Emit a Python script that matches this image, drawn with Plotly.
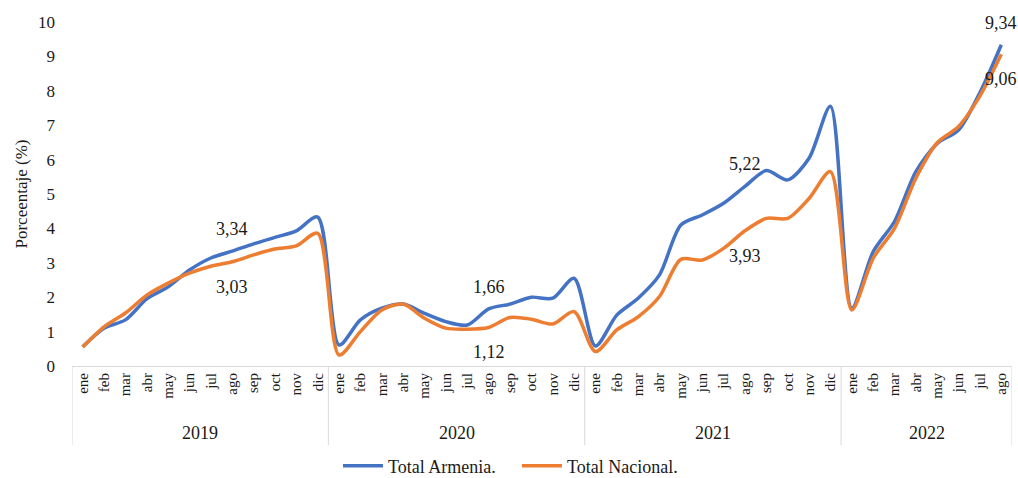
import plotly.graph_objects as go

years = ["2019", "2020", "2021", "2022"]
months_per_year = [12, 12, 12, 8]
month_names = ["ene", "feb", "mar", "abr", "may", "jun", "jul", "ago", "sep", "oct", "nov", "dic"]

armenia = [0.56, 1.10, 1.34, 1.95, 2.30, 2.79, 3.14, 3.34, 3.55, 3.74, 3.93, 4.33,
           0.61, 1.34, 1.68, 1.80, 1.53, 1.29, 1.19, 1.66, 1.80, 2.00, 1.97, 2.55,
           0.58, 1.48, 1.97, 2.65, 4.10, 4.39, 4.73, 5.22, 5.68, 5.41, 6.04, 7.55,
           1.68, 3.32, 4.20, 5.65, 6.47, 6.86, 7.95, 9.34]
nacional = [0.55, 1.14, 1.54, 2.06, 2.41, 2.70, 2.90, 3.03, 3.23, 3.40, 3.49, 3.86,
            0.32, 1.00, 1.63, 1.80, 1.39, 1.10, 1.07, 1.12, 1.41, 1.36, 1.22, 1.58,
            0.42, 1.05, 1.43, 2.02, 3.10, 3.08, 3.42, 3.93, 4.29, 4.29, 4.87, 5.65,
            1.63, 3.13, 4.00, 5.46, 6.49, 6.96, 7.85, 9.06]
labelled_idx = [7, 19, 31, 43]

series_names = ["Total Armenia.", "Total Nacional."]
colors = ["#4472C4", "#ED7D31"]
legend_ids = ["legend", "legend2"]

month_labels = []
for n in months_per_year:
    month_labels += month_names[:n]
x = list(range(len(month_labels)))

FONT = "Liberation Serif"
TXT = "#1a1a1a"

fig = go.Figure()
for name, vals, c, lg in zip(series_names, [armenia, nacional], colors, legend_ids):
    fig.add_trace(go.Scatter(x=x, y=vals, mode="lines", name=name, legend=lg,
                             line=dict(color=c, width=3.5, shape="spline", smoothing=0.8)))

def fmt(v):
    return f"{v:.2f}".replace(".", ",")

for i in labelled_idx:
    fig.add_annotation(x=x[i], y=armenia[i], text=fmt(armenia[i]), showarrow=False,
                       xref="x", yref="y", yshift=22, font=dict(family=FONT, size=18, color=TXT))
    fig.add_annotation(x=x[i], y=nacional[i], text=fmt(nacional[i]), showarrow=False,
                       xref="x", yref="y", yshift=-25, font=dict(family=FONT, size=18, color=TXT))

# year group labels and dividers
start = 0
bounds = [-0.5]
for yr, n in zip(years, months_per_year):
    center = start + (n - 1) / 2
    fig.add_annotation(x=center, y=-0.195, xref="x", yref="paper", text=yr, showarrow=False,
                       yanchor="middle", font=dict(family=FONT, size=18, color=TXT))
    start += n
    bounds.append(start - 0.5)
for b in bounds:
    fig.add_shape(type="line", xref="x", yref="paper", x0=b, x1=b, y0=0, y1=-0.23,
                  line=dict(color="#d9d9d9", width=1))

legend_style = dict(orientation="h", xref="container", yref="container", xanchor="left",
                    y=0.025, yanchor="middle", font=dict(family=FONT, size=18, color=TXT),
                    itemwidth=40, bgcolor="rgba(0,0,0,0)")

fig.update_layout(
    width=1018, height=478,
    margin=dict(l=72, r=6, t=22, b=112),
    paper_bgcolor="white", plot_bgcolor="white",
    font=dict(family=FONT, size=16, color=TXT),
    showlegend=True,
    legend=dict(x=338 / 1018, **legend_style),
    legend2=dict(x=517 / 1018, **legend_style),
)
fig.update_xaxes(range=[-0.5, len(x) - 0.5], tickmode="array", tickvals=x, ticktext=month_labels,
                 tickangle=-90, showgrid=False, zeroline=False, showline=True, linecolor="#d9d9d9",
                 linewidth=1, ticks="", tickfont=dict(family=FONT, size=15, color=TXT))
fig.update_yaxes(range=[0, 10], dtick=1, showgrid=False, zeroline=False, showline=False,
                 ticks="", ticklabelstandoff=16, tickfont=dict(family=FONT, size=17, color=TXT),
                 title=dict(text="Porceentaje (%)", font=dict(family=FONT, size=17, color=TXT), standoff=6))

fig.write_html("out.html", config={"displayModeBar": False},
               post_script="document.body.style.margin='0px';document.body.style.padding='0px';")
